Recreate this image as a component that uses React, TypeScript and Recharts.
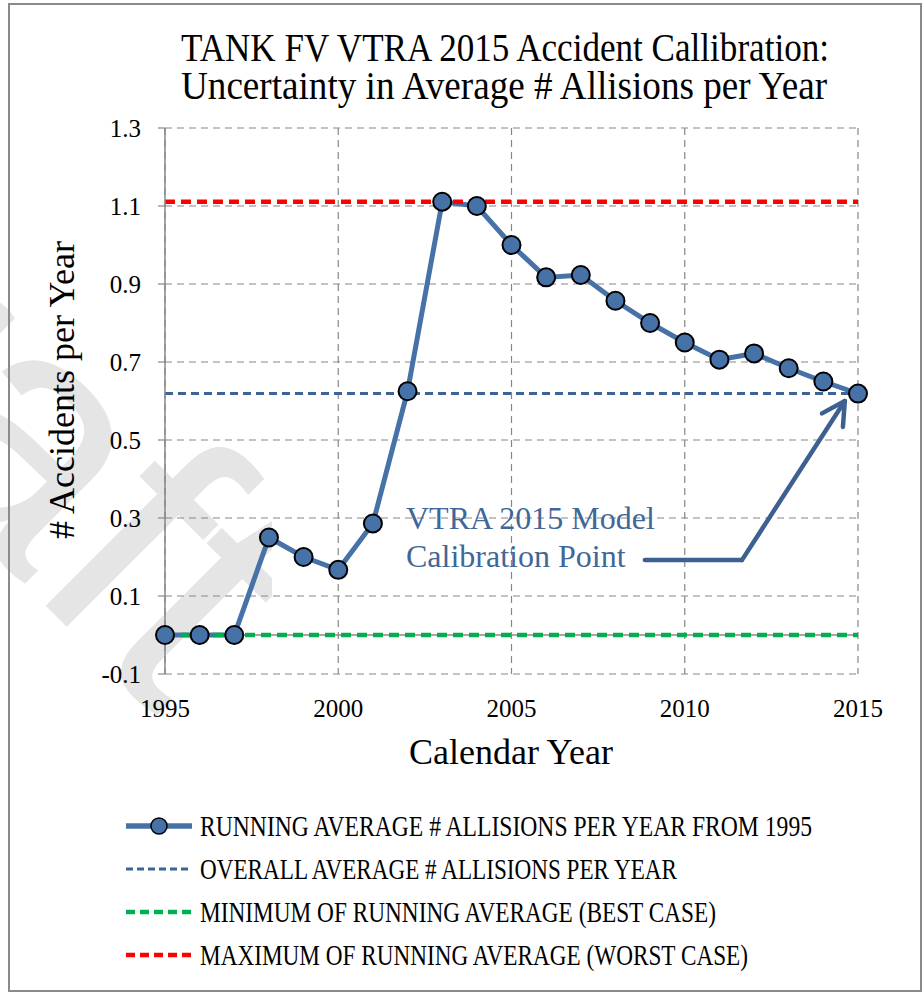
import React from 'react';
import { LineChart, Line, XAxis, YAxis, CartesianGrid, ReferenceLine } from 'recharts';

// values
const years = [
  1995, 1996, 1997, 1998, 1999, 2000, 2001, 2002, 2003, 2004, 2005,
  2006, 2007, 2008, 2009, 2010, 2011, 2012, 2013, 2014, 2015,
];
const runningAverage = [
  0, 0, 0, 0.25, 0.2, 0.167, 0.286, 0.625, 1.111, 1.1, 1.0,
  0.917, 0.923, 0.857, 0.8, 0.75, 0.706, 0.722, 0.684, 0.65, 0.619,
];
const overallAverage = 0.619;
const bestCase = 0;
const worstCase = 1.111;

const xTicks = [1995, 2000, 2005, 2010, 2015];
const yTicks = [-0.1, 0.1, 0.3, 0.5, 0.7, 0.9, 1.1, 1.3];

const titleLines = ['TANK FV VTRA 2015 Accident Callibration:', 'Uncertainty in Average # Allisions per Year'];
const annotationLines = ['VTRA 2015 Model', 'Calibration Point'];
// callout arrow, in data units (year, value)
const arrowPath = [
  { year: 2008.85, value: 0.192 },
  { year: 2011.65, value: 0.192 },
  { year: 2014.62, value: 0.6 },
];
const legendLabels = [
  'RUNNING AVERAGE # ALLISIONS PER YEAR FROM 1995',
  'OVERALL AVERAGE # ALLISIONS PER YEAR',
  'MINIMUM OF RUNNING AVERAGE (BEST CASE)',
  'MAXIMUM OF RUNNING AVERAGE (WORST CASE)',
];

const data = years.map((year, i) => ({ year, running: runningAverage[i] }));

const SERIF = '"Liberation Serif", "Times New Roman", serif';
const BLUE = '#4672A8';
const AVG_BLUE = '#3C6497';
const GREEN = '#00B050';
const RED = '#FF0000';
const ARROW = '#3D6090';
const GRID = '#888888';

const legendStyles = [
  { color: BLUE, dash: undefined, width: 5.5, marker: true, textWidth: 612 },
  { color: AVG_BLUE, dash: '7 4', width: 3, marker: false, textWidth: 477 },
  { color: GREEN, dash: '9 5', width: 4.5, marker: false, textWidth: 516 },
  { color: RED, dash: '9 5', width: 4.5, marker: false, textWidth: 548 },
];

const ArrowShape = (props: any) => {
  const { x1, y1, x2, y2, head } = props;
  const ang = Math.atan2(y2 - y1, x2 - x1);
  const len = 26;
  const spread = 0.5;
  const ax = x2 - len * Math.cos(ang - spread);
  const ay = y2 - len * Math.sin(ang - spread);
  const bx = x2 - len * Math.cos(ang + spread);
  const by = y2 - len * Math.sin(ang + spread);
  return (
    <g stroke={ARROW} strokeWidth={4.5} strokeLinecap="round" fill="none">
      <line x1={x1} y1={y1} x2={x2} y2={y2} />
      {head && <polyline points={`${ax},${ay} ${x2},${y2} ${bx},${by}`} strokeLinejoin="round" />}
    </g>
  );
};

export default function App() {
  return (
    <div style={{ position: 'absolute', left: 0, top: 0, width: 924, height: 992, background: '#fff', overflow: 'hidden' }}>
      {/* watermark and frame behind the chart */}
      <svg width={924} height={992} style={{ position: 'absolute', left: 0, top: 0 }}>
        <defs>
          <clipPath id="wm-clip">
            <rect x={0} y={280} width={272} height={460} />
          </clipPath>
        </defs>
        <g clipPath="url(#wm-clip)">
          <text
            transform="translate(-363,197) rotate(45)"
            fontFamily='"Liberation Sans", Arial, sans-serif'
            fontSize={340}
            fill="#e5e5e5"
          >
            Draft
          </text>
        </g>
        <rect x={9} y={4} width={912} height={987} fill="none" stroke="#8a8a8a" strokeWidth={2} />
      </svg>

      <div style={{ position: 'absolute', left: 0, top: 0 }}>
        <LineChart width={924} height={992} data={data} margin={{ top: 128, right: 66, bottom: 288, left: 0 }}>
          <CartesianGrid stroke={GRID} strokeWidth={1.2} strokeDasharray="7 5" />
          <XAxis
            dataKey="year"
            type="number"
            domain={[1995, 2015]}
            ticks={xTicks}
            interval={0}
            height={30}
            axisLine={false}
            tickLine={false}
            tickSize={0}
            tickMargin={25}
            tick={{ fill: '#000', fontSize: 25, fontFamily: SERIF }}
          />
          <YAxis
            type="number"
            domain={[-0.1, 1.3]}
            ticks={yTicks}
            interval={0}
            width={165}
            allowDataOverflow
            axisLine={{ stroke: GRID, strokeWidth: 1.5 }}
            tickLine={{ stroke: GRID, strokeWidth: 1.2 }}
            tickSize={7}
            tickMargin={17}
            tickFormatter={(v: number) => v.toFixed(1)}
            tick={{ fill: '#000', fontSize: 25, fontFamily: SERIF }}
          />
          <ReferenceLine y={0} stroke={GRID} strokeWidth={1.5} />
          <Line
            dataKey="running"
            stroke={BLUE}
            strokeWidth={5}
            dot={{ r: 9, fill: BLUE, stroke: '#000', strokeWidth: 2 }}
            isAnimationActive={false}
          />
          <ReferenceLine y={overallAverage} stroke={AVG_BLUE} strokeWidth={3} strokeDasharray="8 5" />
          <ReferenceLine y={bestCase} stroke={GREEN} strokeWidth={4.5} strokeDasharray="10 6" />
          <ReferenceLine y={worstCase} stroke={RED} strokeWidth={4.5} strokeDasharray="10 6" />
          <ReferenceLine
            segment={[
              { x: arrowPath[0].year, y: arrowPath[0].value },
              { x: arrowPath[1].year, y: arrowPath[1].value },
            ]}
            shape={(p: any) => <ArrowShape {...p} />}
          />
          <ReferenceLine
            segment={[
              { x: arrowPath[1].year, y: arrowPath[1].value },
              { x: arrowPath[2].year, y: arrowPath[2].value },
            ]}
            shape={(p: any) => <ArrowShape {...p} head />}
          />
        </LineChart>
      </div>

      {/* titles, callout text and legend */}
      <svg width={924} height={992} style={{ position: 'absolute', left: 0, top: 0, pointerEvents: 'none' }}>
        <g fontFamily={SERIF} fill="#000">
          <text x={181} y={61} fontSize={40} textLength={648} lengthAdjust="spacingAndGlyphs">
            {titleLines[0]}
          </text>
          <text x={181} y={99} fontSize={40} textLength={646} lengthAdjust="spacingAndGlyphs">
            {titleLines[1]}
          </text>
          <text x={511} y={764} fontSize={36} textAnchor="middle">
            Calendar Year
          </text>
          <text transform="translate(74,390) rotate(-90)" fontSize={36} textAnchor="middle">
            # Accidents per Year
          </text>
        </g>
        <g fontFamily={SERIF} fill="#3F6797" fontSize={32}>
          <text x={406} y={529}>{annotationLines[0]}</text>
          <text x={406} y={567}>{annotationLines[1]}</text>
        </g>
        {legendLabels.map((label, i) => {
          const s = legendStyles[i];
          const cy = 826 + i * 43;
          return (
            <g key={label}>
              <line x1={126} y1={cy} x2={192} y2={cy} stroke={s.color} strokeWidth={s.width} strokeDasharray={s.dash} />
              {s.marker && <circle cx={159} cy={cy} r={8} fill={BLUE} stroke="#000" strokeWidth={1.5} />}
              <text
                x={200}
                y={cy + 10}
                fontFamily={SERIF}
                fontSize={30}
                textLength={s.textWidth}
                lengthAdjust="spacingAndGlyphs"
              >
                {label}
              </text>
            </g>
          );
        })}
      </svg>
    </div>
  );
}
